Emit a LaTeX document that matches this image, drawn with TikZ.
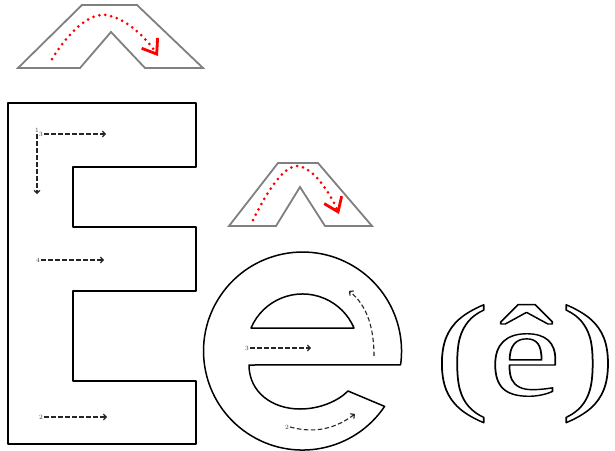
\documentclass[tikz,border=0pt]{standalone}
\usepackage{fontspec}
\newfontfamily\timesf{Liberation Serif}
\usetikzlibrary{arrows.meta}
\newcommand\outlinedtext[1]{\special{pdf:literal direct 1.4 w 1 j 1 Tr}#1\special{pdf:literal direct 0 Tr}}
\begin{document}
\begin{tikzpicture}[x=1pt,y=-1pt,
  caretshape/.style={draw=black!50, line width=1.8pt, line join=miter, fill=white},
  reddots/.style={red, line width=3pt, dash pattern=on 0pt off 6pt, line cap=round,
    -{Straight Barb[length=13pt,width=19pt,line width=2.8pt]}},
  letter/.style={draw=black, line width=1.5pt, line join=round, fill=white},
  guide/.style={black!85, line width=1.1pt, dash pattern=on 4.5pt off 2.5pt,
    -{Straight Barb[length=2.8pt,width=6pt,line width=1.2pt]}},
  digit/.style={inner sep=0pt, font=\fontsize{6.5}{7}\selectfont, text=black!80}]
\useasboundingbox (0,0) rectangle (615,450);
\fill[white] (0,0) rectangle (615,450);

% big caret
\draw[caretshape] (18,68) -- (82,5) -- (137,5) -- (203,68) -- (145,68) -- (111,32) -- (80,68) -- cycle;
\coordinate (bc1) at (52,59);
\coordinate (bc2) at (158,56);
\draw[reddots] (bc1) .. controls (70,30) and (90,13) .. (106,15) .. controls (125,18) and (145,36) .. (bc2);

% small caret
\draw[caretshape] (229,226) -- (278,163) -- (318,163) -- (372,226) -- (325,226) -- (300,187) -- (276,226) -- cycle;
\coordinate (sc1) at (253,220);
\coordinate (sc2) at (339,214);
\draw[reddots] (sc1) .. controls (268,190) and (284,165) .. (298,166) .. controls (314,168) and (330,193) .. (sc2);

% capital E
\draw[letter] (8,103) -- (196,103) -- (196,167) -- (73,167) -- (73,227) -- (196,227) -- (196,291)
  -- (73,291) -- (73,381) -- (196,381) -- (196,444) -- (8,444) -- cycle;
\node[digit] (E1) at (37,130) {1};
\node[digit] (E3) at (41,134) {3};
\node[digit] (E4) at (38,260) {4};
\node[digit] (E2) at (41,417) {2};
\coordinate (E1end) at (37,194);
\coordinate (E3end) at (106,134);
\coordinate (E4end) at (104,260);
\coordinate (E2end) at (107,417);
\draw[guide] (E1.south) ++(0,2) -- (E1end);
\draw[guide] (E3.east) ++(1,0) -- (E3end);
\draw[guide] (E4.east) ++(1,0) -- (E4end);
\draw[guide] (E2.east) ++(1,0) -- (E2end);

% small e
\draw[letter] (348,391) -- (384.6,406.4) arc[start angle=34, end angle=368, radius=99]
  -- (249,365) .. controls (249,392) and (272,409) .. (300,409) .. controls (320,409) and (338,401) .. (348,391) -- cycle;
\draw[letter] (251,328) arc[start angle=203.1, end angle=336.9, radius=56] -- cycle;
\node[digit] (e3) at (247,348) {3};
\node[digit] (e2) at (287,427) {2};
\coordinate (e3end) at (311,348);
\coordinate (e1start) at (374,356);
\coordinate (e1end) at (349,291);
\coordinate (e2end) at (355,414);
\draw[guide] (e3.east) ++(1,0) -- (e3end);
\draw[guide] (e1start) .. controls (374,330) and (368,306) .. (e1end);
\draw[guide] (e2.east) ++(1,0) .. controls (316,434) and (336,428) .. (e2end);

% (ê)
\node[anchor=base west, xscale=1.25, inner sep=0pt, text=black,
  font=\timesf\fontsize{130}{130}\selectfont] (ehat) at (434.5,395) {\outlinedtext{(ê)}};
\end{tikzpicture}
\end{document}
